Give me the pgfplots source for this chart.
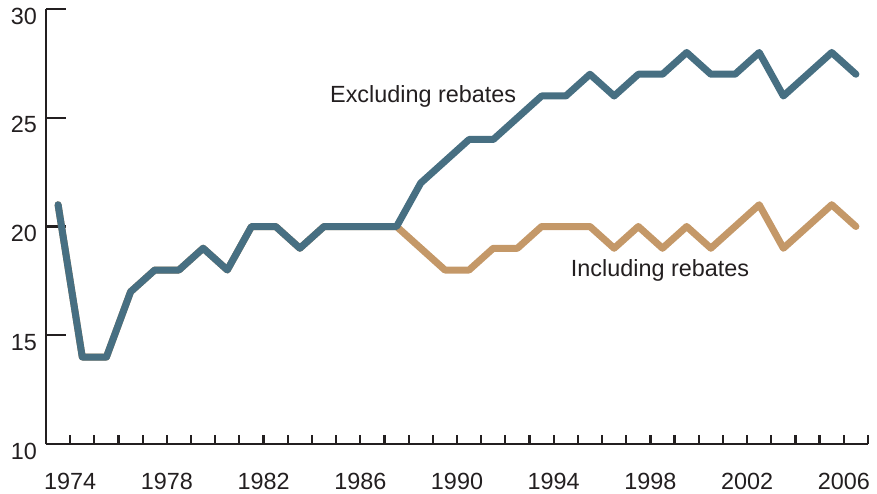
\documentclass[border=0pt]{standalone}
\usepackage{pgfplots}
\pgfplotsset{compat=1.18}
\usepackage{pgfplotstable}
\usepackage{fontspec}
\setmainfont{Liberation Sans}
\definecolor{exclblue}{RGB}{71,111,130}
\definecolor{incltan}{RGB}{196,152,104}
\definecolor{txt}{RGB}{35,31,32}

% year (plotted at mid-year), excluding rebates, including rebates
\pgfplotstableread{
year excl incl
1973.5 21 21
1974.5 14 14
1975.5 14 14
1976.5 17 17
1977.5 18 18
1978.5 18 18
1979.5 19 19
1980.5 18 18
1981.5 20 20
1982.5 20 20
1983.5 19 19
1984.5 20 20
1985.5 20 20
1986.5 20 20
1987.5 20 20
1988.5 22 19
1989.5 23 18
1990.5 24 18
1991.5 24 19
1992.5 25 19
1993.5 26 20
1994.5 26 20
1995.5 27 20
1996.5 26 19
1997.5 27 20
1998.5 27 19
1999.5 28 20
2000.5 27 19
2001.5 27 20
2002.5 28 21
2003.5 26 19
2004.5 27 20
2005.5 28 21
2006.5 27 20
}\rebates

\begin{document}
\begin{tikzpicture}
\begin{axis}[
    name=ax,
    scale only axis,
    width=411pt, height=217.5pt,
    xmin=1973, xmax=2007,
    ymin=10, ymax=30,
    axis x line=bottom, axis y line=left,
    axis line style={-, line width=1.1pt, txt},
    tick align=inside,
    xtick={1974,1978,...,2006},
    minor xtick={1973,...,2007},
    ytick={10,15,...,30},
    x tick style={line width=1.1pt, txt, /pgfplots/major tick length=4.5pt, /pgfplots/minor tick length=4.5pt},
    y tick style={line width=1.1pt, txt, /pgfplots/major tick length=10pt},
    xticklabel style={yshift=-11pt},
    yticklabel style={xshift=-1pt, yshift=-3.5pt},
    ticklabel style={font=\fontsize{11.7}{14}\selectfont, text=txt},
    x tick label style={/pgf/number format/1000 sep={}},
    /pgf/number format/assume math mode=true,
    clip=false,
]
\addplot[incltan, line width=3.5pt, line join=round, line cap=round] table[x=year, y=incl] {\rebates};
\addplot[exclblue, line width=3.5pt, line join=round, line cap=round] table[x=year, y=excl] {\rebates};
\node[txt, font=\fontsize{11.7}{14}\selectfont] at (axis cs:1988.6,26) {Excluding rebates};
\node[txt, font=\fontsize{11.7}{14}\selectfont] at (axis cs:1998.4,18) {Including rebates};
\end{axis}
\pgfresetboundingbox
\path[use as bounding box] ([xshift=-23pt,yshift=-24.5pt]ax.south west) rectangle ([xshift=4.5pt,yshift=4.5pt]ax.north east);
\end{tikzpicture}
\end{document}
